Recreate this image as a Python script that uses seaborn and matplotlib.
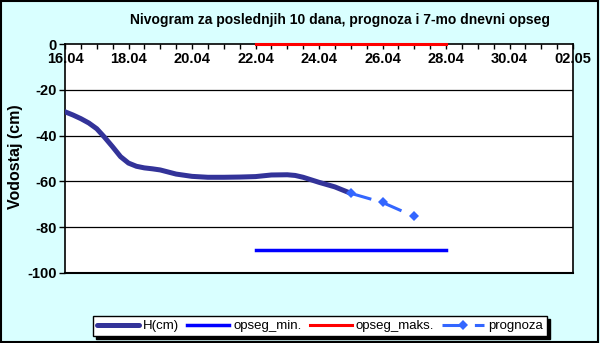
import pandas as pd
import seaborn as sns
import matplotlib.pyplot as plt
import matplotlib.dates as mdates
from matplotlib.patches import Rectangle

# vodostaj H(cm), ocitano sa slike (uglavnom svakih 6h)
h_times = ["2023-04-16 00:00", "2023-04-16 06:00", "2023-04-16 12:00", "2023-04-16 18:00",
           "2023-04-17 00:00", "2023-04-17 06:00", "2023-04-17 12:00", "2023-04-17 18:00",
           "2023-04-18 00:00", "2023-04-18 06:00", "2023-04-18 12:00", "2023-04-18 18:00",
           "2023-04-19 00:00", "2023-04-19 12:00", "2023-04-20 00:00", "2023-04-20 12:00",
           "2023-04-21 00:00", "2023-04-21 12:00", "2023-04-22 00:00", "2023-04-22 12:00",
           "2023-04-23 00:00", "2023-04-23 06:00", "2023-04-23 12:00", "2023-04-23 18:00",
           "2023-04-24 00:00", "2023-04-24 12:00", "2023-04-25 00:00"]
h_values = [-29.6, -31.0, -32.6, -34.5,
            -37.0, -40.8, -44.9, -49.2,
            -52.0, -53.4, -54.1, -54.5,
            -55.0, -56.8, -57.8, -58.2,
            -58.2, -58.1, -57.9, -57.2,
            -57.1, -57.4, -58.2, -59.3,
            -60.4, -62.4, -65.2]

# prognoza
prog_times = ["2023-04-25", "2023-04-26", "2023-04-27"]
prog_values = [-65.2, -69.2, -75.3]

# 7-mo dnevni opseg
opseg_times = ["2023-04-22", "2023-04-28"]
opseg_min = [-90, -90]
opseg_maks = [0, 0]

tick_days = ["2023-04-16", "2023-04-18", "2023-04-20", "2023-04-22", "2023-04-24",
             "2023-04-26", "2023-04-28", "2023-04-30", "2023-05-02"]

bg = "#d9ffff"
plt.rcParams["font.family"] = ["Liberation Sans", "DejaVu Sans"]
plt.rcParams["axes.unicode_minus"] = False

fig = plt.figure(figsize=(6, 3.43), dpi=100, facecolor=bg)
ax = fig.add_axes([65 / 600, 1 - 273 / 343, 508 / 600, 229 / 343])
ax.set_facecolor("white")

h_df = pd.DataFrame({"t": pd.to_datetime(h_times), "v": h_values})
prog_df = pd.DataFrame({"t": pd.to_datetime(prog_times), "v": prog_values})
op_df = pd.DataFrame({"t": pd.to_datetime(opseg_times), "mn": opseg_min, "mx": opseg_maks})

sns.lineplot(data=h_df, x="t", y="v", ax=ax, color="#333399", lw=3.6,
             label="H(cm)", zorder=3, solid_joinstyle="round", solid_capstyle="round")
sns.lineplot(data=op_df, x="t", y="mn", ax=ax, color="#0000ff", lw=2.5,
             label="opseg_min.", zorder=3)
sns.lineplot(data=op_df, x="t", y="mx", ax=ax, color="#ff0000", lw=2.2,
             label="opseg_maks.", zorder=5, clip_on=False)
sns.lineplot(data=prog_df, x="t", y="v", ax=ax, color="#3366ff", lw=2.2,
             marker="D", markersize=5, markeredgewidth=0, dashes=(7, 3.6),
             label="prognoza", zorder=4)

ax.set_xlim(pd.Timestamp(tick_days[0]), pd.Timestamp(tick_days[-1]))
ax.set_ylim(-100, 0)
ax.set_yticks(range(-100, 1, 20))
ax.set_xticks(pd.to_datetime(tick_days))
ax.xaxis.set_major_formatter(mdates.DateFormatter("%d.%m"))
ax.xaxis.set_minor_locator(mdates.HourLocator(byhour=[0, 12]))

# x osa na nuli (gore), kao u Excelu
ax.spines["bottom"].set_position(("data", 0))
ax.spines["top"].set_visible(False)
for s in ["bottom", "left", "right"]:
    ax.spines[s].set_linewidth(1.2)
ax.axhline(-100, color="black", lw=1.5, zorder=6, clip_on=False)
for y in [-20, -40, -60, -80]:
    ax.axhline(y, color="black", lw=0.9, zorder=1)

ax.tick_params(axis="x", which="both", direction="out", length=3.5, width=1, pad=2)
ax.tick_params(axis="x", which="major", labelsize=10.5)
ax.tick_params(axis="y", direction="out", length=4, width=1, labelsize=10.5, pad=2)
for lab in ax.get_xticklabels() + ax.get_yticklabels():
    lab.set_fontweight("bold")

ax.set_xlabel("")
ax.set_ylabel("Vodostaj (cm)", fontsize=11.5, fontweight="bold")
ax.yaxis.set_label_coords((23 - 65) / 508, 0.51)

fig.text(340 / 600, 1 - 20 / 343, "Nivogram za poslednjih 10 dana, prognoza i 7-mo dnevni opseg",
         ha="center", va="center", fontsize=10, fontweight="bold")

leg = ax.legend(loc="center", bbox_to_anchor=(320 / 600, 1 - 326 / 343),
                bbox_transform=fig.transFigure, ncol=4, frameon=True, fancybox=False,
                shadow={"color": "black", "alpha": 1}, edgecolor="black",
                fontsize=9.5, handlelength=3.2, columnspacing=0.6, handletextpad=0.3,
                borderpad=0.3, numpoints=1)
leg.get_frame().set_linewidth(1)

fig.patches.append(Rectangle((0.001, 0.002), 0.995, 0.996, transform=fig.transFigure,
                             fill=False, edgecolor="black", lw=1.5))

fig.savefig("out.png", dpi=100, facecolor=bg)
